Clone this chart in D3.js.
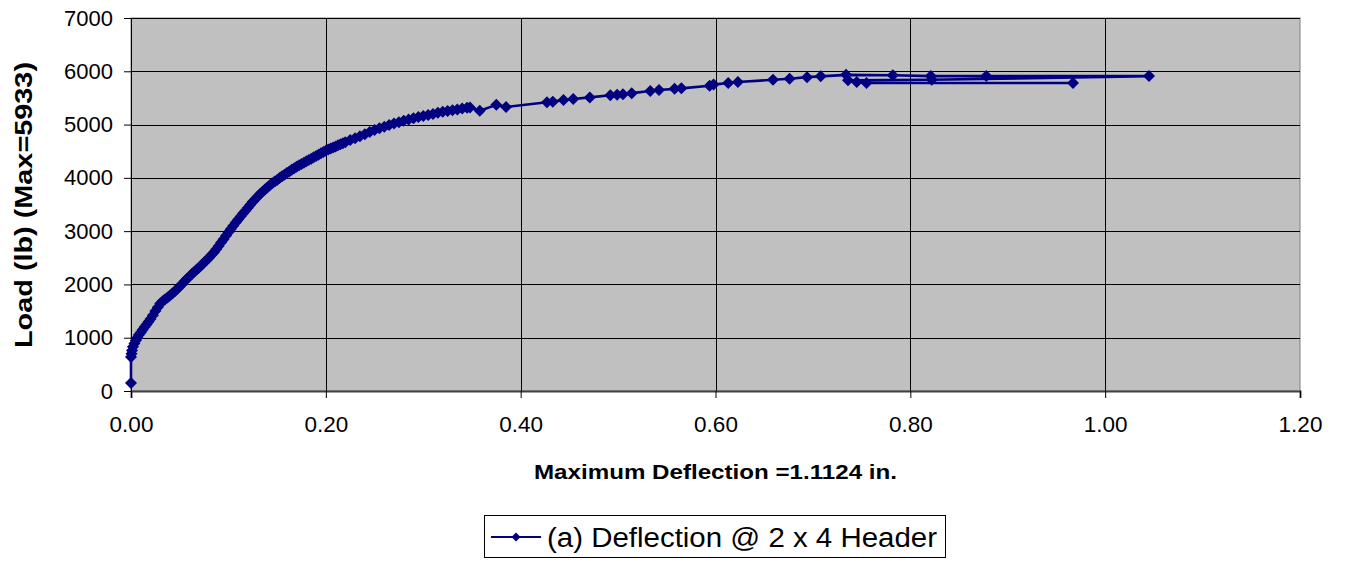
<!DOCTYPE html>
<html><head><meta charset="utf-8">
<script src="https://cdn.jsdelivr.net/npm/d3@7"></script>
<style>body{margin:0;background:#fff;}svg{display:block;font-family:"Liberation Sans",Arial,sans-serif;}</style>
</head><body><svg id="c" width="1345" height="561"></svg>
<script>
// Deflection (in.) and load (lb), in test order
const deflection = [0.0000,0.0000,0.0005,0.0010,0.0020,0.0035,0.0050,0.0065,0.0080,0.0100,0.0120,0.0140,0.0160,0.0180,0.0200,0.0225,0.0250,0.0275,0.0300,0.0325,0.0350,0.0375,0.0400,0.0425,0.0450,0.0475,0.0500,0.0525,0.0550,0.0575,0.0600,0.0625,0.0650,0.0675,0.0700,0.0725,0.0750,0.0775,0.0800,0.0825,0.0850,0.0875,0.0900,0.0925,0.0950,0.0975,0.1000,0.1025,0.1050,0.1075,0.1100,0.1125,0.1150,0.1175,0.1200,0.1225,0.1250,0.1275,0.1300,0.1325,0.1350,0.1375,0.1400,0.1425,0.1450,0.1475,0.1500,0.1525,0.1550,0.1575,0.1600,0.1625,0.1650,0.1675,0.1700,0.1725,0.1750,0.1775,0.1800,0.1825,0.1850,0.1875,0.1900,0.1925,0.1950,0.1975,0.2000,0.2025,0.2050,0.2075,0.2100,0.2125,0.2150,0.2175,0.2200,0.2250,0.2300,0.2350,0.2400,0.2450,0.2500,0.2550,0.2600,0.2650,0.2700,0.2750,0.2800,0.2850,0.2900,0.2950,0.3000,0.3050,0.3100,0.3150,0.3200,0.3250,0.3300,0.3350,0.3400,0.3450,0.3480,0.3580,0.3750,0.3850,0.4270,0.4330,0.4440,0.4540,0.4710,0.4920,0.4990,0.5050,0.5140,0.5330,0.5420,0.5580,0.5650,0.5940,0.5980,0.6130,0.6230,0.6590,0.6760,0.6940,0.7080,0.7340,0.7820,0.8210,0.8780,1.0450,0.8220,0.7360,0.7450,0.7550,0.9670];
const load = [150,640,700,760,830,890,950,1000,1050,1100,1150,1200,1250,1300,1350,1420,1500,1570,1640,1685,1720,1755,1790,1830,1870,1915,1960,2010,2060,2105,2150,2195,2240,2280,2320,2365,2410,2455,2500,2550,2600,2660,2720,2785,2850,2915,2980,3040,3100,3160,3220,3275,3330,3385,3440,3495,3550,3600,3650,3695,3740,3780,3820,3860,3900,3930,3960,3995,4030,4060,4090,4120,4150,4180,4210,4235,4260,4285,4310,4335,4360,4385,4410,4435,4460,4485,4510,4530,4550,4570,4590,4610,4630,4650,4670,4710,4745,4780,4820,4860,4900,4930,4960,4990,5020,5045,5070,5095,5120,5140,5160,5180,5200,5220,5240,5255,5270,5285,5300,5315,5320,5260,5370,5330,5420,5430,5460,5480,5510,5550,5560,5570,5590,5630,5650,5670,5680,5730,5750,5780,5800,5840,5860,5890,5905,5933,5925,5910,5910,5910,5840,5830,5800,5780,5780];
const xTicks = [0,0.2,0.4,0.6,0.8,1.0,1.2];
const yTicks = [0,1000,2000,3000,4000,5000,6000,7000];
const seriesName = "(a) Deflection @ 2 x 4 Header";
const xTitle = "Maximum Deflection =1.1124 in.";
const yTitle = "Load (lb) (Max=5933)";

const data = deflection.map((d,i)=>({x:d,y:load[i]}));
const svg = d3.select("#c");
const L=131,R=1300,T=18,B=391;
const x = d3.scaleLinear().domain([0,1.2]).range([L,R]);
const y = d3.scaleLinear().domain([0,7000]).range([B,T]);
const navy="#000080";
const diamond = "M0,-6L6,0L0,6L-6,0Z";

svg.append("rect").attr("x",L).attr("y",T).attr("width",R-L).attr("height",B-T).attr("fill","#c0c0c0").attr("stroke","#808080").attr("stroke-width",1);

// gridlines
svg.append("g").selectAll("line").data(yTicks.filter(v=>v>0)).join("line")
  .attr("x1",L).attr("x2",R).attr("y1",d=>Math.round(y(d))+0.5).attr("y2",d=>Math.round(y(d))+0.5)
  .attr("stroke","#000").attr("stroke-width",1);
svg.append("g").selectAll("line").data(xTicks.filter(v=>v>0 && v<1.2)).join("line")
  .attr("y1",T).attr("y2",B).attr("x1",d=>Math.round(x(d))+0.5).attr("x2",d=>Math.round(x(d))+0.5)
  .attr("stroke","#000").attr("stroke-width",1);

// axes
const xAxis = svg.append("g").attr("transform",`translate(0,${B})`)
  .call(d3.axisBottom(x).tickValues(xTicks).tickFormat(d3.format(".2f")).tickSize(7).tickPadding(18));
xAxis.select(".domain").attr("stroke","#404040").attr("stroke-width",2);
xAxis.selectAll(".tick line").attr("stroke","#000");
xAxis.selectAll("text").attr("font-size",22.5).attr("fill","#000").attr("font-family","Liberation Sans, Arial, sans-serif");

const yAxis = svg.append("g").attr("transform",`translate(${L},0)`)
  .call(d3.axisLeft(y).tickValues(yTicks).tickFormat(d3.format("d")).tickSize(7).tickPadding(11));
yAxis.select(".domain").attr("stroke","#000").attr("stroke-width",1);
yAxis.selectAll(".tick line").attr("stroke","#000");
yAxis.selectAll("text").attr("font-size",22).attr("fill","#000").attr("font-family","Liberation Sans, Arial, sans-serif");

// series
const line = d3.line().x(d=>x(d.x)).y(d=>y(d.y));
svg.append("path").datum(data).attr("d",line).attr("fill","none").attr("stroke",navy).attr("stroke-width",2.6).attr("stroke-linejoin","round");
svg.append("g").selectAll("path").data(data).join("path")
  .attr("transform",d=>`translate(${x(d.x)},${y(d.y)})`).attr("d",diamond).attr("fill",navy);

// titles
svg.append("text").attr("x",715.5).attr("y",479).attr("text-anchor","middle")
  .attr("font-size",21).attr("font-weight","bold").attr("textLength",363).attr("lengthAdjust","spacingAndGlyphs").text(xTitle);
svg.append("text").attr("transform",`translate(32,205) rotate(-90)`).attr("text-anchor","middle")
  .attr("font-size",24).attr("font-weight","bold").attr("textLength",286).attr("lengthAdjust","spacingAndGlyphs").text(yTitle);

// legend
const lg = svg.append("g");
lg.append("rect").attr("x",484.5).attr("y",515.5).attr("width",461).attr("height",42).attr("fill","#fff").attr("stroke","#000").attr("stroke-width",1);
lg.append("line").attr("x1",491).attr("x2",541).attr("y1",537).attr("y2",537).attr("stroke",navy).attr("stroke-width",2.2);
lg.append("path").attr("transform","translate(516,537) scale(0.75)").attr("d",diamond).attr("fill",navy);
lg.append("text").attr("x",547).attr("y",547).attr("font-size",27).attr("textLength",390).attr("lengthAdjust","spacingAndGlyphs").text(seriesName);
</script></body></html>
